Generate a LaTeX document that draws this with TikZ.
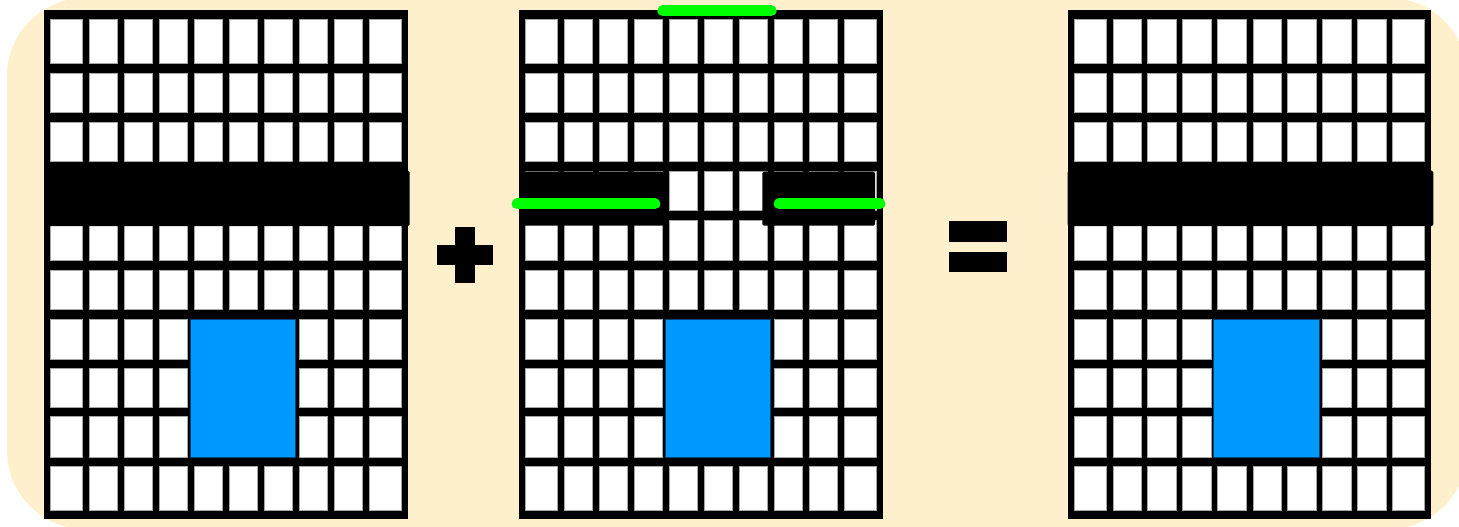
\documentclass[tikz,border=0pt]{standalone}
\definecolor{cream}{RGB}{255,240,205}
\definecolor{lime}{RGB}{0,255,0}
\definecolor{cellblue}{RGB}{0,153,255}
\tikzset{
  cell/.style={fill=white, draw=black!35, line width=0.6pt},
  gridframe/.style={fill=black},
  band/.style={fill=black, rounded corners=1.5pt},
  hole/.style={fill=cellblue, draw=black!55!cellblue, line width=0.8pt},
  greenline/.style={draw=lime, line width=10.7pt, line cap=round},
  signbar/.style={fill=black}
}
\begin{document}
\begin{tikzpicture}[x=1pt,y=-1pt]
\useasboundingbox (0,0) rectangle (1459,527);
\clip (0,0) rectangle (1459,527);
\fill[cream, rounded corners=78pt] (7,-2) rectangle (1467,529);
\foreach \gx in {44,519,1067.7} {
  \fill[gridframe] (\gx,10) rectangle (\gx+363.7,519.3);
  \foreach \xa/\xb in {6.7/38.7, 45.3/73.3, 80/108.3, 115/143.3, 150/178.7, 185.3/213.3, 220/248.3, 255/283.3, 290/318.3, 325/357} {
    \foreach \ya/\yb in {19.3/63.3, 73.3/112.7, 122.7/161.7, 171.7/210.7, 220/260.5, 270/309.3, 319.3/359, 368.3/407.3, 416.7/457.3, 466.7/510} {
      \draw[cell] (\gx+\xa,\ya) rectangle (\gx+\xb,\yb);
    }
  }
  \draw[hole] (\gx+146,319) rectangle (\gx+251.3,457.3);
}
% black bands
\fill[band] (44,170.7) rectangle (409.7,226);
\fill[band] (1067.7,170.7) rectangle (1433.3,226);
\fill[band] (519,171.7) rectangle (664,225.5);
\fill[band] (762.3,171.7) rectangle (875,225.7);
% green markers
\draw[greenline] (662.7,10.7) -- (771.3,10.7);
\draw[greenline] (517,203.8) -- (655,203.8);
\draw[greenline] (779,203.8) -- (880,203.8);
% plus sign
\fill[signbar] (455,226.7) rectangle (475,283.3);
\fill[signbar] (436.7,245) rectangle (493.3,265);
% equals sign
\fill[signbar] (949,220.7) rectangle (1006.7,241.7);
\fill[signbar] (949,251.7) rectangle (1006.7,271.7);
\end{tikzpicture}
\end{document}
